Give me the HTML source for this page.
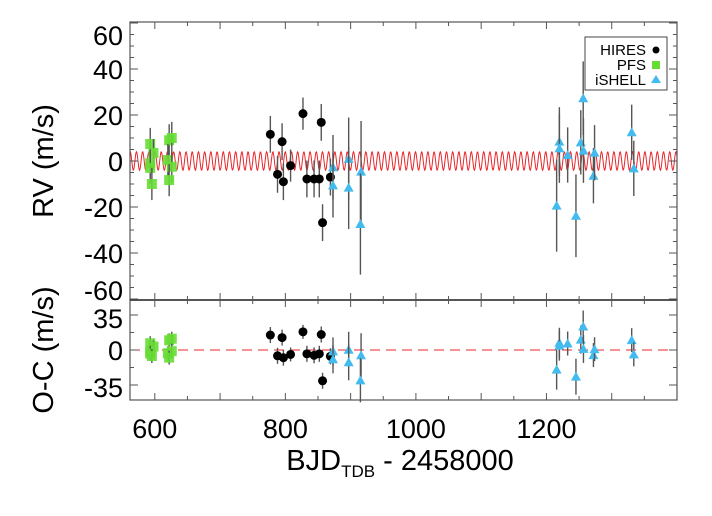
<!DOCTYPE html>
<html><head><meta charset="utf-8"><style>
html,body{margin:0;padding:0;background:#fff;}
svg{display:block;font-family:"Liberation Sans",Arial,sans-serif;}
</style></head><body>
<svg id="chart" width="712" height="516" viewBox="0 0 712 516" xmlns="http://www.w3.org/2000/svg"></svg>
<script>
// ---- data ----
const hiresT = [777,788,795,797,808,827,833,844,852,855,857,869];
const hiresRV = [11.6,-5.8,8.4,-9,-2,20.6,-7.8,-7.8,-7.8,16.8,-26.8,-7];
const hiresErr = [8,8,8,8,7,7,8,8,8,8,8,8];
const pfsT = [593,598,593,593,595.5,622,626,620,626,622];
const pfsRV = [7.4,3.5,-0.9,-3,-10,9,10,0.4,-2.5,-8.3];
const pfsErr = [7,6,6,7,7,7,7,7,7,7];
const ishT = [873,873,897,897,916,915,1215.6,1219.8,1219.8,1232.5,1245.2,1252.6,1256.3,1256.7,1272,1273.7,1330.6,1333.8];
const ishRV = [-2.7,-10.6,0.9,-11.6,-4.6,-27.4,-19.4,8.4,5.5,2.6,-23.8,8.1,27.3,4.5,-6.4,3.6,12.5,-3.2];
const ishErr = [14,14,18,18,22,22,20,15,15,12,18,14,16,14,12,12,12,12];
const modelAmp = [4];
const modelPeriod = [9.5];
const xTicks = [600,800,1000,1200];
const rvTicks = [60,40,20,0,-20,-40,-60];
const ocTicks = [35,0,-35];

// ---- layout ----
const L=130,R=677,T1=22,B1=300,T2=300,B2=400;
const X0=562,X1=1400;
const sx=t=>L+(t-X0)/(X1-X0)*(R-L);
const sy=v=>161-v*2.3;
const sy2=v=>350-v;
const model=t=>modelAmp[0]*Math.sin(2*Math.PI*(t-560)/modelPeriod[0]);
const svg=document.getElementById('chart');
const NS='http://www.w3.org/2000/svg';
function mk(tag,attrs,parent){const e=document.createElementNS(NS,tag);for(const k in attrs)e.setAttribute(k,attrs[k]);(parent||svg).appendChild(e);return e;}

// model curve
let d='';
for(let t=X0;t<=X1;t+=0.7){d+=(d?'L':'M')+sx(t).toFixed(2)+','+sy(model(t)).toFixed(2);}
const curve=mk('path',{d:d,fill:'none',stroke:'#e8262a','stroke-width':1});


const zl=mk('line',{x1:L,x2:R,y1:sy2(0),y2:sy2(0),stroke:'#e8262a','stroke-width':1,'stroke-dasharray':'10,6'});



function drawSeries(T,V,E,kind,name){
  for(let i=0;i<T.length;i++){
    const x=sx(T[i]);
    const res=V[i]-model(T[i]);
    [[sy,V[i],E[i]],[sy2,res,E[i]]].forEach(([f,v,e],pi)=>{
      const g=mk('g',{});
      
      
      mk('line',{x1:x,x2:x,y1:f(v+e),y2:f(v-e),stroke:'#555','stroke-width':1.4},g);
      const y=f(v);
      if(kind==='c')mk('circle',{cx:x,cy:y,r:4.5,fill:'#000'},g);
      else if(kind==='s')mk('rect',{x:x-5,y:y-5,width:10,height:10,fill:'#66dd33',opacity:0.9},g);
      else mk('polygon',{points:`${x},${y-5} ${x-5},${y+4} ${x+5},${y+4}`,fill:'#44bbee'},g);
    });
  }
}
drawSeries(pfsT,pfsRV,pfsErr,'s','pfs');
drawSeries(hiresT,hiresRV,hiresErr,'c','hires');
drawSeries(ishT,ishRV,ishErr,'t','ishell');

// frames
const f1=mk('rect',{x:L,y:T1,width:R-L,height:B1-T1,fill:'none',stroke:'#555','stroke-width':1.2});

const f2=mk('rect',{x:L,y:T2,width:R-L,height:B2-T2,fill:'none',stroke:'#555','stroke-width':1.2});

mk('line',{x1:L,x2:R,y1:300,y2:300,stroke:'#333','stroke-width':1.5});

// x ticks
for(let t=600;t<=X1;t+=50){
  const x=sx(t),len=(t%100===0)?7:4;
  [[T1,1],[B1,-1],[T2,1],[B2,-1]].forEach(([y,s])=>mk('line',{x1:x,x2:x,y1:y,y2:y+s*len,stroke:'#555'}));
}
xTicks.forEach(t=>{const e=mk('text',{x:sx(t),y:438,'font-size':27,'text-anchor':'middle'});e.textContent=t;
});
// y ticks top
for(let v=-60;v<=60;v+=5){const y=sy(v),len=(v%20===0)?8:4;
  mk('line',{x1:L,x2:L+len,y1:y,y2:y,stroke:'#555'});mk('line',{x1:R,x2:R-len,y1:y,y2:y,stroke:'#555'});}
rvTicks.forEach(v=>{let yc=sy(v);if(v===60)yc=35;if(v===-60)yc=290;
const e=mk('text',{x:123,y:yc+10,'font-size':27,'text-anchor':'end'});e.textContent=v;
});
for(let v=-35;v<=35;v+=17.5){const y=sy2(v),len=(v%35===0)?8:4;
  mk('line',{x1:L,x2:L+len,y1:y,y2:y,stroke:'#555'});mk('line',{x1:R,x2:R-len,y1:y,y2:y,stroke:'#555'});}
ocTicks.forEach(v=>{let yc=sy2(v);if(v===35)yc=318;if(v===-35)yc=387;
const e=mk('text',{x:123,y:yc+10,'font-size':27,'text-anchor':'end'});e.textContent=v;
});

// titles
let t1=mk('text',{x:0,y:0,'font-size':29,'text-anchor':'middle',transform:'translate(53,161) rotate(-90)'});t1.textContent='RV (m/s)';

let t2=mk('text',{x:0,y:0,'font-size':29,'text-anchor':'middle',transform:'translate(53,350) rotate(-90)'});t2.textContent='O-C (m/s)';

let xt=mk('text',{x:400,y:470,'font-size':29,'text-anchor':'middle'});
xt.innerHTML='BJD<tspan font-size="17" dy="7">TDB</tspan><tspan dy="-7"> - 2458000</tspan>';


// legend
const lg=mk('g',{});

mk('rect',{x:585,y:37,width:82,height:53,fill:'#fff',stroke:'#444'},lg);
[['HIRES','c',50],['PFS','s',65],['iSHELL','t',80]].forEach(([n,k,y])=>{
  const tx=mk('text',{x:646,y:y+5,'font-size':15,'text-anchor':'end'},lg);tx.textContent=n;
  
  if(k==='c')mk('circle',{cx:656,cy:y,r:3.5,fill:'#000'},lg);
  else if(k==='s')mk('rect',{x:652,y:y-4,width:8,height:8,fill:'#66dd33'},lg);
  else mk('polygon',{points:`656,${y-5} 651,${y+3} 661,${y+3}`,fill:'#44bbee'},lg);
});
</script>
</body></html>
